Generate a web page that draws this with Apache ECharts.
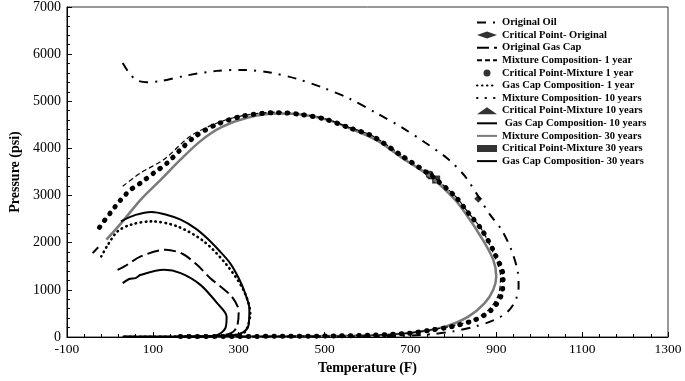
<!DOCTYPE html>
<html>
<head>
<meta charset="utf-8">
<script src="https://cdn.jsdelivr.net/npm/echarts@6/dist/echarts.min.js"></script>
<style>
  html, body { margin: 0; padding: 0; background: #fff; }
  #chart { width: 685px; height: 381px; }
</style>
</head>
<body>
<div id="chart"></div>
<script>
// phase envelopes, [temperature F, pressure psi]
var originalOil = [[30,5810],[45,5600],[62,5450],[85,5405],[119,5430],[180,5550],[249,5645],[311,5666],[373,5610],[434,5480],[496,5290],[557,5060],[623,4740],[681,4440],[735,4121],[789,3766],[827,3411],[858,2985],[885,2600],[912,2277],[935,1851],[950,1390],[952,1050],[945,780],[927,539],[896,362],[850,220],[800,120],[750,60],[700,30],[600,15],[450,10],[280,6]];
var originalGasCap = [[-40,1780],[-27,1905],null,[18,1425],[34,1496],[72,1709],[130,1851],[169,1766],[203,1532],[234,1248],[262,1040],[284,858],[298,640],[300,504],[296,219],[283,85],[250,20],[150,5],[30,3]];
var mixture1yr = [[30,3198],[72,3482],[126,3766],[188,4262],[250,4540],[311,4700],[390,4770],[442,4735],[503,4625],[557,4450],[611,4270],[681,3845],[750,3420],[804,2990],[835,2640],[866,2280],[893,1780],[910,1283],[905,894],[882,574],[845,362],[790,220],[745,149],[690,78],[600,35],[400,15],[150,10]];
var gasCap1yr = [[-20,1709],[-5,1950],[18,2240],[49,2383],[97,2453],[157,2347],[219,2028],[272,1532],[311,1000],[327,504],[315,113],[290,40],[200,10],[30,5]];
var mixture10yr = [[-24,2326],[-12,2475],[3,2653],[18,2830],[35,3006],[49,3128],[72,3270],[103,3483],[134,3695],[165,3979],[200,4262],[249,4511],[311,4688],[388,4759],[442,4723],[503,4617],[557,4440],[611,4262],[681,3836],[750,3411],[804,2985],[835,2631],[866,2277],[896,1780],[916,1283],[912,894],[889,574],[850,362],[796,220],[750,149],[696,78],[600,35],[500,20],[400,15],[300,12],[150,10]];
var gasCap10yr = [[30,1142],[45,1230],[60,1250],[72,1319],[126,1425],[165,1355],[211,1106],[250,717],[272,432],[269,185],[249,40],[200,10],[30,3]];
var mixture30yr = [[-8,2064],[30,2453],[72,2915],[119,3340],[165,3766],[211,4155],[260,4450],[320,4650],[390,4740],[450,4715],[510,4600],[560,4420],[620,4180],[681,3800],[750,3380],[800,2950],[827,2640],[866,2100],[893,1638],[900,1283],[893,1000],[873,717],[835,432],[781,220],[720,110],[650,50],[500,20],[300,10],[160,8]];
var gasCap30yr = [[26,2453],[60,2590],[97,2653],[130,2600],[165,2489],[200,2300],[226,2100],[255,1830],[280,1568],[300,1250],[315,930],[325,600],[323,250],[310,100],[280,30],[200,8],[30,5]];

// critical points
var critOriginal = [[858,2930]];
var critMix1yr = [[745,3440]];
var critMix10yr = [[750,3430]];
var critMix30yr = [[760,3340]];

var xTicks = { min: -100, max: 1300, step: 200 };
var yTicks = { min: 0, max: 7000, step: 1000 };

var chart = echarts.init(document.getElementById('chart'));
var serif = '"Liberation Serif", "Times New Roman", serif';

function lineSeries(name, data, style) {
  return {
    name: name,
    type: 'line',
    data: data,
    symbol: 'none',
    smooth: 0.3,
    connectNulls: false,
    lineStyle: style,
    itemStyle: { color: style.color },
    animation: false
  };
}
function pointSeries(name, data, shape) {
  return {
    name: name,
    type: 'scatter',
    data: data,
    symbol: shape,
    symbolSize: 8,
    itemStyle: { color: '#000' },
    animation: false
  };
}
// legend entry: lines get no marker, points keep theirs
function lineItem(name) { return { name: name, itemStyle: { opacity: 0 } }; }

var option = {
  backgroundColor: '#fff',
  animation: false,
  grid: {
    left: 62, right: 17, top: 7, bottom: 44,
    show: true, borderColor: '#333', borderWidth: 1, backgroundColor: 'transparent'
  },
  legend: {
    orient: 'vertical',
    left: 471,
    top: 12,
    itemWidth: 20,
    itemHeight: 7,
    itemGap: 1.6,
    textStyle: { fontFamily: serif, fontWeight: 'bold', fontSize: 10.5, color: '#000', lineHeight: 11 },
    data: [lineItem('Original Oil'), 'Critical Point- Original', lineItem('Original Gas Cap'),
      lineItem('Mixture Composition- 1 year'), 'Critical Point-Mixture 1 year',
      lineItem('Gas Cap Composition- 1 year'), lineItem('Mixture Composition- 10 years'),
      'Critical Point-Mixture 10 years', lineItem(' Gas Cap Composition- 10 years'),
      lineItem('Mixture Composition- 30 years'), 'Critical Point-Mixture 30 years',
      lineItem('Gas Cap Composition- 30 years')]
  },
  xAxis: {
    type: 'value',
    min: xTicks.min, max: xTicks.max, interval: xTicks.step,
    name: 'Temperature (F)',
    nameLocation: 'middle',
    nameGap: 22,
    nameTextStyle: { fontFamily: serif, fontWeight: 'bold', fontSize: 14, color: '#000' },
    axisLine: { onZero: false, lineStyle: { color: '#000', width: 1 } },
    axisTick: { inside: true, length: 5, lineStyle: { color: '#000' } },
    minorTick: { show: true, splitNumber: 5, length: 3, lineStyle: { color: '#000' } },
    axisLabel: { fontFamily: serif, fontSize: 13.5, color: '#000', margin: 5, formatter: function (v) { return String(v); } },
    splitLine: { show: false }
  },
  yAxis: {
    type: 'value',
    min: yTicks.min, max: yTicks.max, interval: yTicks.step,
    name: 'Pressure (psi)',
    nameLocation: 'middle',
    nameGap: 42,
    nameTextStyle: { fontFamily: serif, fontWeight: 'bold', fontSize: 14, color: '#000' },
    axisLine: { show: true, onZero: false, lineStyle: { color: '#000', width: 1 } },
    axisTick: { show: true, inside: true, length: 5, lineStyle: { color: '#000' } },
    minorTick: { show: true, splitNumber: 5, length: 3, lineStyle: { color: '#000' } },
    axisLabel: { fontFamily: serif, fontSize: 14, color: '#000', margin: 6, formatter: function (v) { return String(v); } },
    splitLine: { show: false }
  },
  series: [
    lineSeries('Mixture Composition- 30 years', mixture30yr, { color: '#7a7a7a', width: 2.5, type: 'solid' }),
    lineSeries('Original Oil', originalOil, { color: '#000', width: 2, type: [9, 7, 2, 7] }),
    lineSeries('Original Gas Cap', originalGasCap, { color: '#000', width: 2, type: [12, 5] }),
    lineSeries('Mixture Composition- 1 year', mixture1yr, { color: '#000', width: 1.2, type: [5, 3] }),
    lineSeries('Gas Cap Composition- 1 year', gasCap1yr, { color: '#000', width: 2.6, type: [0.5, 4.5], cap: 'round' }),
    lineSeries('Mixture Composition- 10 years', mixture10yr, { color: '#000', width: 5, type: [0.5, 8], cap: 'round' }),
    lineSeries(' Gas Cap Composition- 10 years', gasCap10yr, { color: '#000', width: 2, type: 'solid' }),
    lineSeries('Gas Cap Composition- 30 years', gasCap30yr, { color: '#000', width: 2, type: 'solid' }),
    pointSeries('Critical Point- Original', critOriginal, 'diamond'),
    pointSeries('Critical Point-Mixture 1 year', critMix1yr, 'circle'),
    pointSeries('Critical Point-Mixture 10 years', critMix10yr, 'triangle'),
    pointSeries('Critical Point-Mixture 30 years', critMix30yr, 'rect')
  ]
};
chart.setOption(option);
</script>
</body>
</html>
